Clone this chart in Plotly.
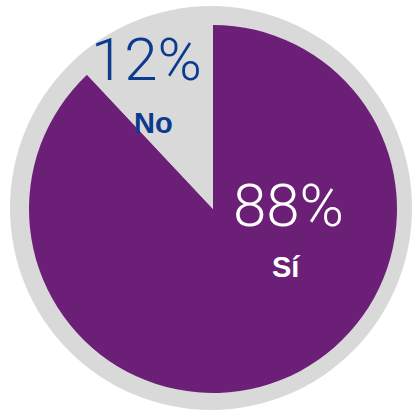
import plotly.graph_objects as go

labels = ["Sí", "No"]
values = [88, 12]
colors = ["#6C1F77", "#D9D9D9"]
text_colors = ["#FFFFFF", "#0B3A8F"]

W = H = 413
fig = go.Figure()
fig.add_trace(go.Pie(
    labels=labels, values=values, sort=False, direction="clockwise",
    rotation=0, marker=dict(colors=colors, line=dict(width=0)),
    textinfo="none", hoverinfo="label+percent", showlegend=False,
    domain=dict(x=[29/W, 397/W], y=[20/H, 388/H]),
))

# outer ring
fig.add_shape(type="circle", xref="paper", yref="paper",
              x0=10/W, x1=412/W, y0=3/H, y1=407/H,
              fillcolor="#D9D9D9", line=dict(width=0), layer="below")

pos = {"No": ((146, 60), (153, 123)), "Sí": ((288, 205), (286, 267))}
for lab, val, tc in zip(labels, values, text_colors):
    (px, py), (lx, ly) = pos[lab]
    fig.add_annotation(x=px/W, y=1-py/H, xref="paper", yref="paper",
                       xanchor="center", yanchor="middle",
                       text=f"{val}%", showarrow=False,
                       font=dict(family="Roboto", size=60, color=tc, weight=300))
    fig.add_annotation(x=lx/W, y=1-ly/H, xref="paper", yref="paper",
                       xanchor="center", yanchor="middle",
                       text=f"<b>{lab}</b>", showarrow=False,
                       font=dict(family="Liberation Sans, Arial", size=29, color=tc))

fig.update_layout(width=W, height=H, margin=dict(l=0, r=0, t=0, b=0),
                  paper_bgcolor="white", plot_bgcolor="white")
fig.write_html("out.html", config={"displayModeBar": False})

with open("out.html", encoding="utf-8") as f:
    html = f.read()
html = html.replace("<head>", "<head><style>html,body{margin:0;padding:0;overflow:hidden}</style>", 1)
with open("out.html", "w", encoding="utf-8") as f:
    f.write(html)
